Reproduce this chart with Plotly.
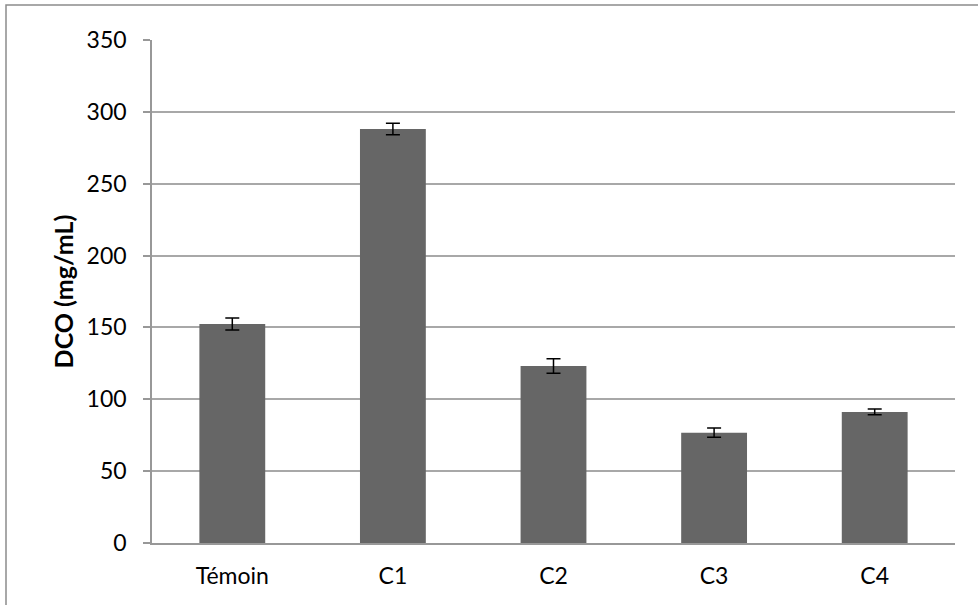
import plotly.graph_objects as go

categories = ["Témoin", "C1", "C2", "C3", "C4"]
values = [152.4, 288.0, 123.2, 76.8, 91.2]
errors = [4.2, 4.0, 5.0, 3.2, 2.0]
y_ticks = [0, 50, 100, 150, 200, 250, 300, 350]

font_family = "Lato, 'Open Sans', sans-serif"

fig = go.Figure()
fig.add_trace(go.Bar(
    x=categories,
    y=values,
    marker=dict(color="#666666", line=dict(width=0)),
    error_y=dict(type="data", array=errors, visible=True, color="#000000",
                 thickness=1.5, width=7),
))

fig.update_layout(
    width=978, height=605,
    margin=dict(l=152, r=23, t=40, b=62),
    paper_bgcolor="white",
    plot_bgcolor="white",
    bargap=0.59,
    showlegend=False,
    font=dict(family=font_family, size=23, color="#000000"),
    xaxis=dict(
        showline=True, linecolor="#989898", linewidth=1.5,
        ticks="", showgrid=False, tickfont=dict(size=23),
        ticklabelstandoff=12,
    ),
    yaxis=dict(
        range=[0, 350], tickvals=y_ticks,
        showline=True, linecolor="#989898", linewidth=1.5,
        ticks="outside", ticklen=7, tickcolor="#989898", tickwidth=1.5,
        showgrid=True, gridcolor="#a8a8a8", gridwidth=1.5,
        zeroline=False,
        title=dict(text="<b>DCO (mg/mL)</b>", font=dict(size=25), standoff=6),
        tickfont=dict(size=23),
        ticklabelstandoff=12,
    ),
    shapes=[dict(
        type="rect", xref="paper", yref="paper",
        x0=(6 - 152) / 803, x1=1.2, y0=-0.3, y1=(543 - 5) / 503,
        line=dict(color="#8c8c8c", width=1.5), fillcolor="rgba(0,0,0,0)",
        layer="below",
    )],
)

fig.write_html("out.html", config={"displayModeBar": False},
               post_script="document.body.style.margin='0';")
